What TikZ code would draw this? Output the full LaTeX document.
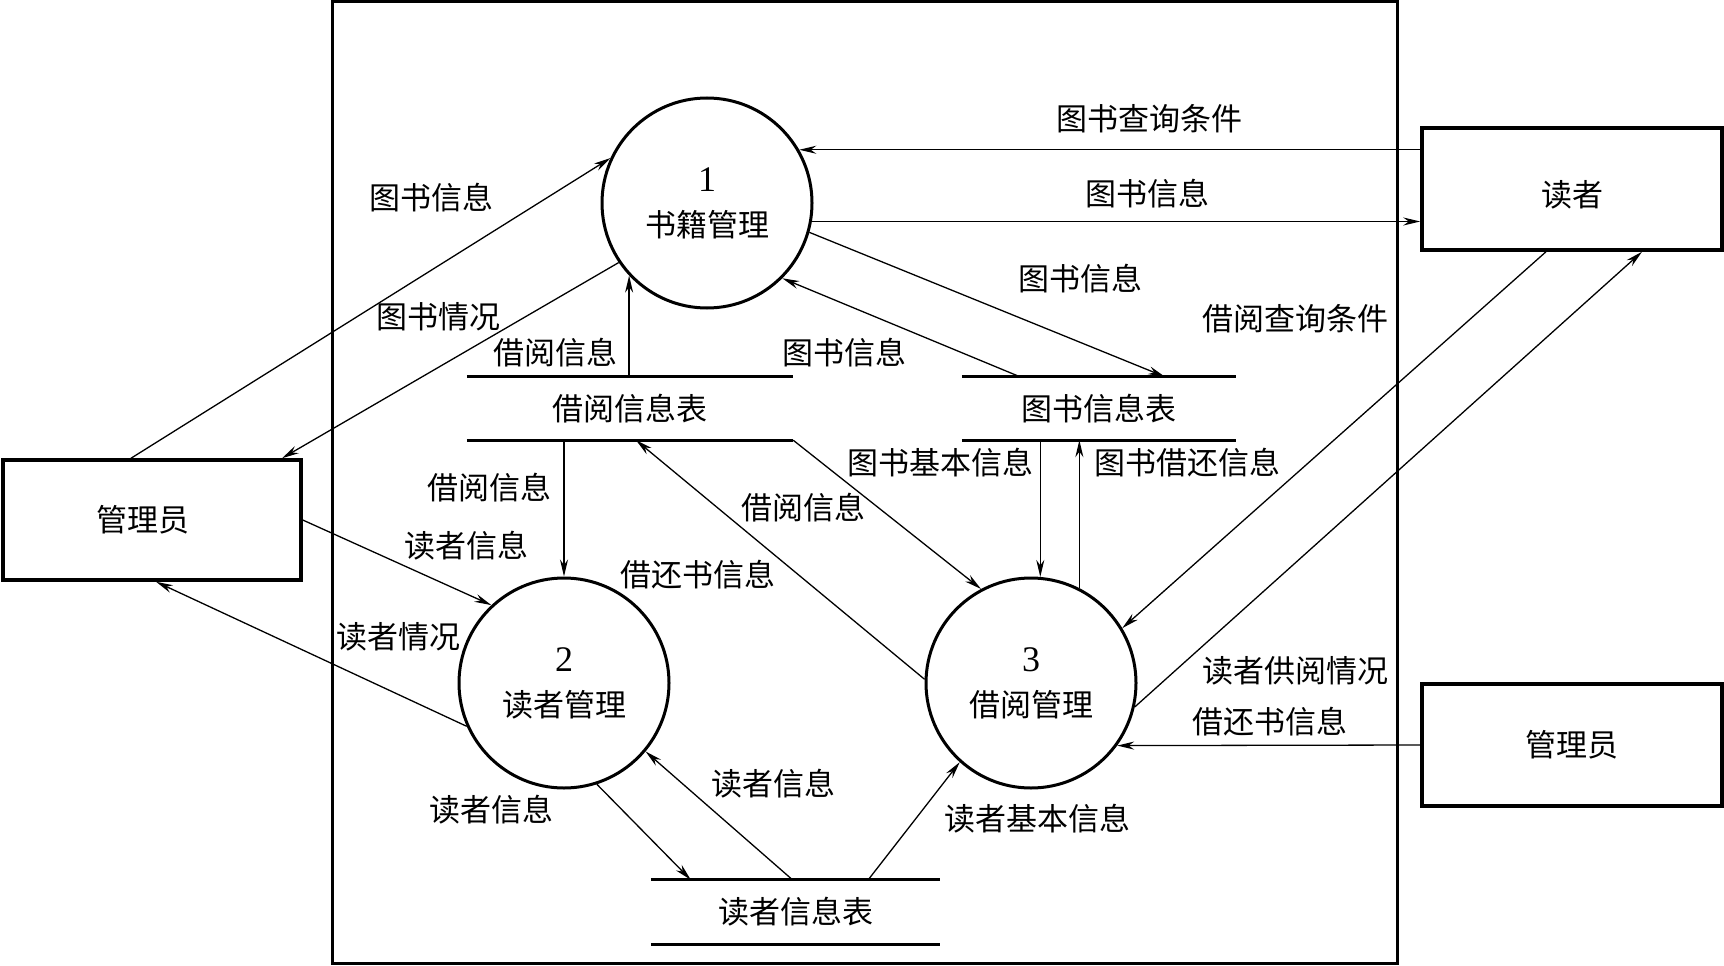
\documentclass[tikz,border=0pt]{standalone}
\usepackage{fontspec}
\setmainfont{Liberation Serif}
\newfontfamily\cjk{Noto Sans CJK SC}
\newfontfamily\numf{Liberation Serif}
\usetikzlibrary{arrows.meta}
\newcommand{\pnum}[1]{{\numf\fontsize{36}{44}\selectfont #1}}
\begin{document}
\begin{tikzpicture}[x=1pt,y=-1pt,
  every node/.style={font=\cjk\fontsize{31}{45}\selectfont, inner sep=0pt},
  proc/.style={draw, circle, line width=3pt, minimum size=210pt, align=center},
  ext/.style={draw, line width=3.5pt, minimum width=298pt, minimum height=120pt},
  store/.style={minimum height=63pt},
  flow/.style={-{Stealth[length=17pt,width=8pt]}, line width=1.3pt}]
\useasboundingbox (0,0) rectangle (1724,966);
% system boundary
\draw[line width=3pt] (332,2) rectangle (1397,963);
% external entities
\node[ext] (mL) at (152,520) {管理员\hspace*{18pt}};
\node[ext, minimum width=300pt, minimum height=122pt] (rd) at (1572,189) {\raisebox{-6pt}[\height][\depth]{读者}};
\node[ext, minimum width=300pt, minimum height=122pt] (mR) at (1572,745) {管理员};
% processes
\node[proc] (c1) at (707,203) {\pnum{1}\\书籍管理};
\node[proc] (c2) at (564,683) {\pnum{2}\\读者管理};
\node[proc] (c3) at (1031,683) {\pnum{3}\\借阅管理};
% data stores
\node[store, minimum width=326pt] (bt) at (630,408.5) {借阅信息表};
\node[store, minimum width=274pt] (tt) at (1099,408.5) {图书信息表};
\node[store, minimum width=289pt, minimum height=64pt] (rt) at (795.5,912) {读者信息表};
\foreach \s in {bt,tt,rt}{
  \draw[line width=3pt] (\s.north west) -- (\s.north east);
  \draw[line width=3pt] (\s.south west) -- (\s.south east);
}
% flows
\draw[flow] ([xshift=-21pt]mL.north) -- (c1.155);
\draw[flow] (c1.214) -- ([xshift=130pt]mL.north);
\draw[flow] (c1.30 -| rd.west) -- (c1.30);
\draw[flow] (c1.-10) -- (c1.-10 -| rd.west);
\draw[flow] (c1.-16) -- ([xshift=66pt]tt.north);
\draw[flow] ([xshift=-79pt]tt.north) -- (c1.-45);
\draw[flow] (c1.-137 |- bt.north) -- (c1.-137);
\draw[flow] (c2.north |- bt.south) -- (c2.north);
\draw[flow] (mL.east) -- (c2.133);
\draw[flow] (c2.204) -- ([xshift=4pt]mL.south);
\draw[flow] (c3.178) -- ([xshift=6pt]bt.south);
\draw[flow] (bt.south east) -- (c3.118);
\draw[flow] (c3.85 |- tt.south) -- (c3.85);
\draw[flow] (c3.63) -- (c3.63 |- tt.south);
\draw[flow] ([xshift=-26pt]rd.south) -- (c3.31);
\draw[flow] (c3.-13) -- ([xshift=70pt]rd.south);
\draw[flow] (mR.west) -- (c3.-36);
\draw[flow] (c2.-72) -- ([xshift=40pt]rt.north west);
\draw[flow] ([xshift=-3pt]rt.north) -- (c2.-40);
\draw[flow] ([xshift=-72pt]rt.north east) -- (c3.228);
% labels
\node (t1) at (431,198) {图书信息};
\node (t2) at (438,317) {图书情况};
\node (t3) at (1149,119) {图书查询条件};
\node (t4) at (1147,194) {图书信息};
\node (t5) at (1080,279) {图书信息};
\node (t6) at (1295,319) {借阅查询条件};
\node (t7) at (555,353) {借阅信息};
\node (t8) at (844,353) {图书信息};
\node (t9) at (489,488) {借阅信息};
\node (t10) at (940,463) {图书基本信息};
\node (t11) at (1187,463) {图书借还信息};
\node (t12) at (803,508) {借阅信息};
\node (t13) at (466,546) {读者信息};
\node (t14) at (698,575) {借还书信息};
\node (t15) at (398,637) {读者情况};
\node (t16) at (1295,671) {读者供阅情况};
\node (t17) at (1270,722) {借还书信息};
\node (t18) at (491,810) {读者信息};
\node (t19) at (773,784) {读者信息};
\node (t20) at (1037,819) {读者基本信息};
\end{tikzpicture}
\end{document}
